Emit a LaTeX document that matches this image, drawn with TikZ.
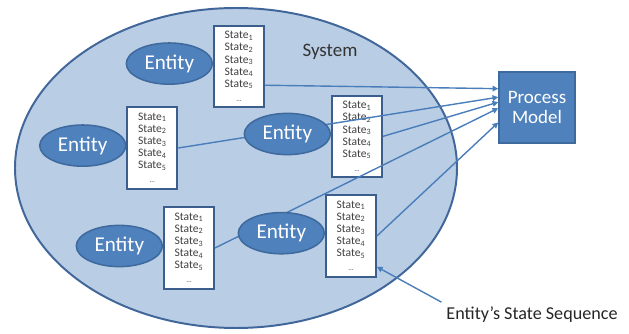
\documentclass[tikz,border=0pt]{standalone}
\usepackage{fontspec}
\setmainfont{Carlito}
\usetikzlibrary{arrows.meta,positioning,shapes.geometric}

\definecolor{sysfill}{HTML}{B9CDE5}
\definecolor{sysline}{HTML}{41669A}
\definecolor{entfill}{HTML}{4F81BD}
\definecolor{entline}{HTML}{3E6A9E}
\definecolor{boxline}{HTML}{3B5E8C}
\definecolor{feedline}{HTML}{4A7EBB}

\tikzset{
  entity/.style={ellipse, draw=entline, line width=1.1pt, fill=entfill,
    text=white, minimum width=2.15cm, minimum height=1.03cm, inner sep=0pt,
    font=\fontsize{15}{17}\selectfont},
  states/.style={rectangle, draw=boxline, line width=1.3pt, fill=white,
    minimum width=1.25cm, minimum height=2.03cm, inner sep=1pt, align=center,
    text=black!75, font=\fontsize{8.2}{8.6}\selectfont},
  model/.style={rectangle, draw=entline, line width=1.1pt, fill=entfill,
    text=white, minimum width=1.9cm, minimum height=1.775cm, align=center,
    font=\fontsize{13.5}{14.4}\selectfont},
  feed/.style={draw=feedline, line width=1pt,
    -{Triangle[length=4pt,width=4pt]}},
}

% list of states shown in every box
\newcommand{\statelist}{State\textsubscript{1}\\State\textsubscript{2}\\
  State\textsubscript{3}\\State\textsubscript{4}\\State\textsubscript{5}\\[1.5pt]
  {\fontsize{5}{6}\selectfont\ldots}}

\begin{document}
\begin{tikzpicture}
  \useasboundingbox (0,0) rectangle (15.725,8.35);

  % the system
  \draw[sysline, line width=1.4pt, fill=sysfill] (5.9,4.15) ellipse (5.525 and 4.0);
  \node[text=black!80, font=\fontsize{13.5}{15}\selectfont] (sys) at (8.25,7.05) {System};

  % state sequences
  \node[states] (b1) at (5.975,6.69) {\statelist};
  \node[states] (b2) at (3.81,4.65)  {\statelist};
  \node[states] (b3) at (8.925,4.94) {\statelist};
  \node[states] (b4) at (4.725,2.15) {\statelist};
  \node[states] (b5) at (8.775,2.45) {\statelist};

  \node[model] (pm) at (13.425,5.66) {Process\\Model};

  % every sequence feeds the model
  \draw[feed] (b1.-36) -- (pm.154);
  \draw[feed] (b2.east) -- (pm.165);
  \draw[feed] (b3.east) -- (pm.172);
  \draw[feed] (b4.east) -- (pm.181);
  \draw[feed] (b5.east) -- (pm.201);

  % entities sit in front of the lines
  \node[entity, left=0pt of b1, yshift=0.7mm] (e1) {Entity};
  \node[entity, left=0pt of b2, yshift=0.6mm] (e2) {Entity};
  \node[entity, left=0pt of b3, yshift=0.6mm] (e3) {Entity};
  \node[entity, left=0pt of b4, yshift=0.5mm] (e4) {Entity};
  \node[entity, left=0pt of b5, yshift=0.7mm] (e5) {Entity};

  \node[text=black!85, font=\fontsize{12.9}{15}\selectfont] (seq) at (13.3,0.475)
    {Entity’s State Sequence};
  \draw[feed] (seq.north west) -- (b5.-50);
\end{tikzpicture}
\end{document}
